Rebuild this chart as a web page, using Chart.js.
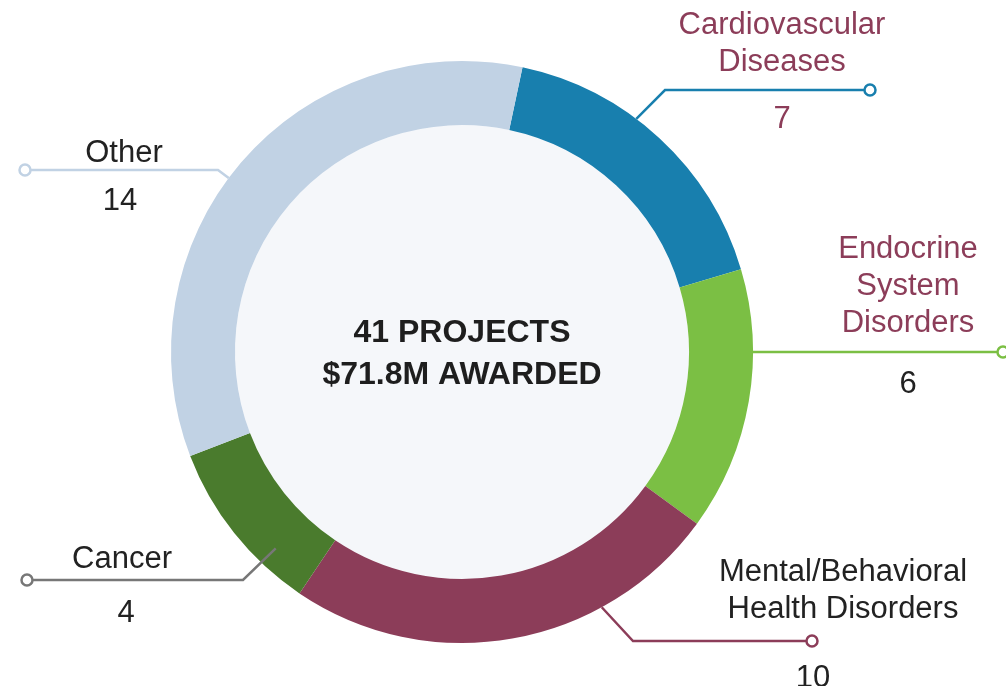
<!DOCTYPE html>
<html>
<head>
<meta charset="utf-8">
<script src="https://cdn.jsdelivr.net/npm/chart.js@4.4.0/dist/chart.umd.min.js"></script>
<style>
  html, body { margin: 0; padding: 0; background: #ffffff; }
  #wrap { width: 1006px; height: 686px; position: relative; }
</style>
</head>
<body>
<div id="wrap"><canvas id="chart" width="1006" height="686"></canvas></div>
<script>
// data
var categories = ['Cardiovascular Diseases', 'Endocrine System Disorders', 'Mental/Behavioral Health Disorders', 'Cancer', 'Other'];
var projectCounts = [7, 6, 10, 4, 14];
var centerLines = ['41 PROJECTS', '$71.8M AWARDED'];

var sliceColors = ['#187fae', '#7bbf44', '#8c3d59', '#4a7b2d', '#c1d2e4'];

// label layout: text lines, where they sit, and the leader line shape
var labelLayout = [
    { lines: ['Cardiovascular', 'Diseases'], tx: 782, ty: 34, nx: 782, ny: 128, color: '#8c3d59', numColor: '#8c3d59',
      lineColor: '#187fae', angle: 36.8, rf: 1.0, elbow: [665, 90], end: [870, 90] },
    { lines: ['Endocrine', 'System', 'Disorders'], tx: 908, ty: 258, nx: 908, ny: 393, color: '#8c3d59', numColor: '#222222',
      lineColor: '#7bbf44', angle: 90, rf: 1.0, elbow: null, end: [1003, 352] },
    { lines: ['Mental/Behavioral', 'Health Disorders'], tx: 843, ty: 581, nx: 813, ny: 687, color: '#222222', numColor: '#222222',
      lineColor: '#8c3d59', angle: 151.3, rf: 1.0, elbow: [633, 641], end: [812, 641] },
    { lines: ['Cancer'], tx: 122, ty: 568, nx: 126, ny: 622, color: '#222222', numColor: '#222222',
      lineColor: '#777777', angle: 223.5, rf: 0.93, elbow: [243, 580], end: [27, 580] },
    { lines: ['Other'], tx: 124, ty: 162, nx: 120, ny: 210, color: '#222222', numColor: '#222222',
      lineColor: '#c1d2e4', angle: 306.7, rf: 1.0, elbow: [218, 170], end: [25, 170] }
];

var FONT = '"Liberation Sans", Arial, Helvetica, sans-serif';

var centerFill = {
    id: 'centerFill',
    beforeDatasetsDraw: function (chart) {
        var arc = chart.getDatasetMeta(0).data[0];
        var ctx = chart.ctx;
        ctx.save();
        ctx.beginPath();
        ctx.arc(arc.x, arc.y, arc.innerRadius, 0, Math.PI * 2);
        ctx.fillStyle = '#f5f7fa';
        ctx.fill();
        ctx.restore();
    }
};

var labelsPlugin = {
    id: 'labelsPlugin',
    afterDatasetsDraw: function (chart) {
        var ctx = chart.ctx;
        var meta = chart.getDatasetMeta(0);
        var ds = chart.data.datasets[0].data;
        ctx.save();

        // center text
        var a0 = meta.data[0];
        ctx.fillStyle = '#1e1e1e';
        ctx.font = 'bold 32px ' + FONT;
        ctx.textAlign = 'center';
        ctx.textBaseline = 'alphabetic';
        ctx.fillText(centerLines[0], a0.x, 342);
        ctx.fillText(centerLines[1], a0.x, 384);

        meta.data.forEach(function (arc, i) {
            var L = labelLayout[i];
            var ang = L.angle * Math.PI / 180;
            var r = arc.outerRadius * L.rf;
            var sx = arc.x + Math.sin(ang) * r;
            var sy = arc.y - Math.cos(ang) * r;

            ctx.strokeStyle = L.lineColor;
            ctx.lineWidth = 2.5;
            ctx.lineJoin = 'miter';
            ctx.beginPath();
            ctx.moveTo(sx, sy);
            if (L.elbow) ctx.lineTo(L.elbow[0], L.elbow[1]);
            ctx.lineTo(L.end[0], L.end[1]);
            ctx.stroke();

            ctx.beginPath();
            ctx.arc(L.end[0], L.end[1], 5.5, 0, Math.PI * 2);
            ctx.fillStyle = '#ffffff';
            ctx.fill();
            ctx.stroke();

            ctx.font = '31px ' + FONT;
            ctx.textAlign = 'center';
            ctx.fillStyle = L.color;
            L.lines.forEach(function (t, k) {
                ctx.fillText(t, L.tx, L.ty + k * 37);
            });
            ctx.fillStyle = L.numColor;
            ctx.fillText(String(ds[i]), L.nx, L.ny);
        });
        ctx.restore();
    }
};

var ctx = document.getElementById('chart').getContext('2d');
new Chart(ctx, {
    type: 'doughnut',
    data: {
        labels: categories,
        datasets: [{
            data: projectCounts,
            backgroundColor: sliceColors,
            borderWidth: 0,
            hoverOffset: 0
        }]
    },
    options: {
        responsive: false,
        animation: false,
        events: [],
        rotation: 12,
        radius: 291,
        cutout: 227,
        layout: { padding: { left: 171, right: 253, top: 61, bottom: 43 } },
        plugins: {
            legend: { display: false },
            tooltip: { enabled: false }
        }
    },
    plugins: [centerFill, labelsPlugin]
});
</script>
</body>
</html>
